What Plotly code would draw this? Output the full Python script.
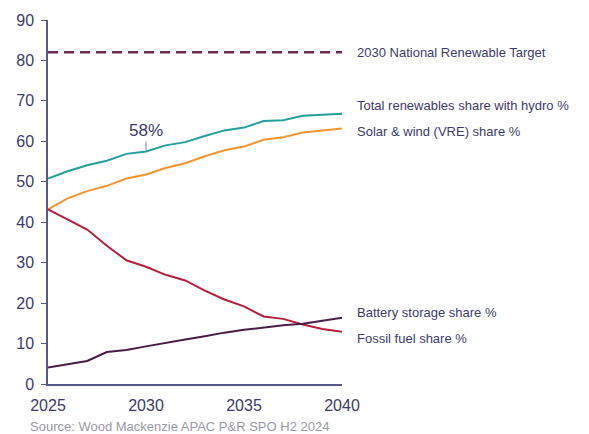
import plotly.graph_objects as go

years = list(range(2025, 2041))
total_renew = [50.8, 52.6, 54.1, 55.2, 56.9, 57.5, 59.0, 59.8, 61.3, 62.7, 63.4, 65.0, 65.2, 66.3, 66.6, 66.8]
solar_wind = [43.2, 45.9, 47.7, 49.0, 50.8, 51.8, 53.4, 54.6, 56.3, 57.8, 58.7, 60.4, 61.0, 62.2, 62.7, 63.2]
fossil = [43.2, 40.7, 38.2, 34.2, 30.6, 29.0, 27.0, 25.6, 23.1, 20.9, 19.2, 16.7, 16.1, 14.7, 13.6, 12.9]
battery = [4.1, 4.9, 5.7, 7.9, 8.4, 9.3, 10.2, 11.0, 11.8, 12.7, 13.4, 14.0, 14.5, 14.9, 15.7, 16.4]
target_years = [2025, 2040]
target = [82, 82]

labels = {
    "target": "2030 National Renewable Target",
    "total": "Total renewables share with hydro %",
    "solar": "Solar & wind (VRE) share %",
    "battery": "Battery storage share %",
    "fossil": "Fossil fuel share %",
}
label_y = {"target": 82, "total": 68.8, "solar": 62.5, "battery": 17.6, "fossil": 11.3}

text_col = "#3d3b6e"
font = "Liberation Sans, Arial, sans-serif"

fig = go.Figure()
fig.add_trace(go.Scatter(x=target_years, y=target, mode="lines",
                         line=dict(color="#6e2a52", width=2.5, dash="10px,6px")))
fig.add_trace(go.Scatter(x=years, y=total_renew, mode="lines", line=dict(color="#23a09b", width=2)))
fig.add_trace(go.Scatter(x=years, y=solar_wind, mode="lines", line=dict(color="#f4952f", width=2)))
fig.add_trace(go.Scatter(x=years, y=fossil, mode="lines", line=dict(color="#b3213c", width=2)))
fig.add_trace(go.Scatter(x=years, y=battery, mode="lines", line=dict(color="#4a1d44", width=2)))

for k, txt in labels.items():
    fig.add_annotation(x=1.045, xref="paper", y=label_y[k], yref="y", text=txt,
                       showarrow=False, xanchor="left", yanchor="middle",
                       font=dict(family=font, size=13, color=text_col))

fig.add_annotation(x=2030, y=total_renew[5], text="58%", showarrow=True, arrowhead=0,
                   arrowwidth=1, arrowcolor="#8a87a8", ax=0, ay=-21, standoff=1,
                   font=dict(family=font, size=17, color=text_col))

fig.add_annotation(x=-0.068, xref="paper", y=-0.1175, yref="paper", yanchor="middle", xanchor="left",
                   text="Source: Wood Mackenzie APAC P&R SPO H2 2024", showarrow=False,
                   font=dict(family=font, size=13, color="#9a9aa6"))

fig.update_layout(
    width=589, height=434, margin=dict(l=48, r=247, t=18, b=50),
    paper_bgcolor="white", plot_bgcolor="white", showlegend=False,
    font=dict(family=font, color=text_col),
)
fig.update_xaxes(range=[2025, 2040], tickvals=[2025, 2030, 2035, 2040], showgrid=False,
                 showline=True, linecolor="#5a5888", linewidth=1.5, ticks="",
                 ticklabelstandoff=6,
                 tickfont=dict(size=16, color=text_col), zeroline=False)
fig.update_yaxes(range=[0, 90], dtick=10, showgrid=False, showline=True, linecolor="#5a5888",
                 linewidth=1.5, ticks="outside", ticklen=5, tickcolor="#5a5888",
                 ticklabelstandoff=4,
                 tickfont=dict(size=16, color=text_col), zeroline=False)

fig.write_html("out.html")
